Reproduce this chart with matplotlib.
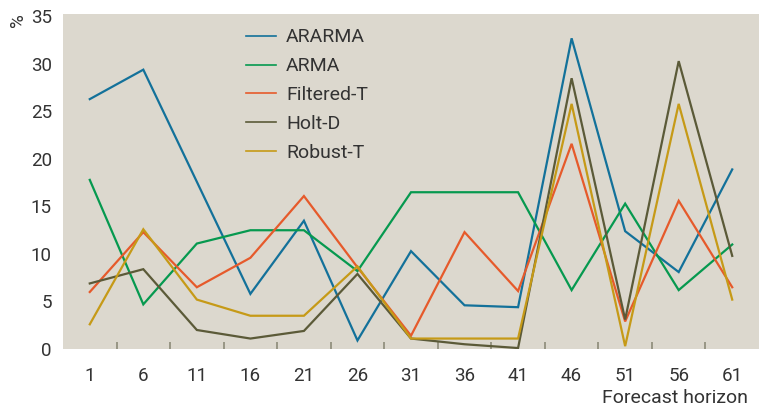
import matplotlib
matplotlib.use("Agg")
import matplotlib.pyplot as plt
import numpy as np

plt.rcParams['font.family'] = ['Roboto', 'DejaVu Sans']

horizons = ["1", "6", "11", "16", "21", "26", "31", "36", "41", "46", "51", "56", "61"]
ararma = [26.3, 29.4, 17.6, 5.8, 13.5, 0.9, 10.3, 4.6, 4.4, 32.7, 12.4, 8.1, 18.9]
arma = [17.8, 4.7, 11.1, 12.5, 12.5, 8.2, 16.5, 16.5, 16.5, 6.2, 15.3, 6.2, 11.0]
filtered_t = [6.0, 12.3, 6.5, 9.6, 16.1, 8.6, 1.4, 12.3, 6.1, 21.6, 2.9, 15.6, 6.5]
holt_d = [6.9, 8.4, 2.0, 1.1, 1.9, 7.9, 1.1, 0.5, 0.1, 28.5, 3.1, 30.3, 9.8]
robust_t = [2.6, 12.6, 5.2, 3.5, 3.5, 8.7, 1.1, 1.1, 1.1, 25.8, 0.3, 25.8, 5.2]

series = [
    ("ARARMA", ararma, "#13719a"),
    ("ARMA", arma, "#06994f"),
    ("Filtered-T", filtered_t, "#e65a2b"),
    ("Holt-D", holt_d, "#5b5a38"),
    ("Robust-T", robust_t, "#c69a17"),
]

fig = plt.figure(figsize=(7.6, 4.07), dpi=100)
ax = fig.add_axes([63/760, (407-349)/407, (759-63)/760, (349-14)/407])
bg = "#dcd8ce"
ax.set_facecolor(bg)
for s in ax.spines.values():
    s.set_visible(False)

x = np.arange(len(horizons))
for name, vals, col in series:
    ax.plot(x, vals, color=col, lw=1.6, label=name, solid_joinstyle='miter')

ax.set_xlim(-0.5, len(horizons) - 0.5)
ax.set_ylim(0, 35.26)

txtcol = "#333333"
ax.set_xticks(x)
ax.set_xticklabels(horizons)
ax.set_xticks(np.arange(0.5, len(horizons) - 1, 1), minor=True)
ax.tick_params(axis='x', which='major', length=0, pad=13, labelsize=13.5, labelcolor=txtcol)
ax.tick_params(axis='x', which='minor', direction='in', length=5, width=1.2, color="#8c8a78")

ax.set_yticks(np.arange(0, 36, 5))
ax.set_yticks(np.arange(5, 31, 5), minor=True)
ax.tick_params(axis='y', which='major', length=0, pad=8, labelsize=13.5, labelcolor=txtcol)
ax.tick_params(axis='y', which='minor', direction='in', length=10, width=1.2, color="#7c7a5c")

leg = ax.legend(loc='upper left', bbox_to_anchor=(0.252, 0.98), frameon=False,
                fontsize=14, handlelength=1.55, handletextpad=0.5, labelspacing=0.56,
                borderaxespad=0)
for t in leg.get_texts():
    t.set_color(txtcol)
for l in leg.get_lines():
    l.set_linewidth(1.2)

fig.text(18/760, 1 - 20/407, "%", rotation=90, ha='center', va='center', fontsize=13.5, color=txtcol)
fig.text(748/760, 1 - 398/407, "Forecast horizon", ha='right', va='center', fontsize=14, color=txtcol)

fig.savefig("out.png", dpi=100)
